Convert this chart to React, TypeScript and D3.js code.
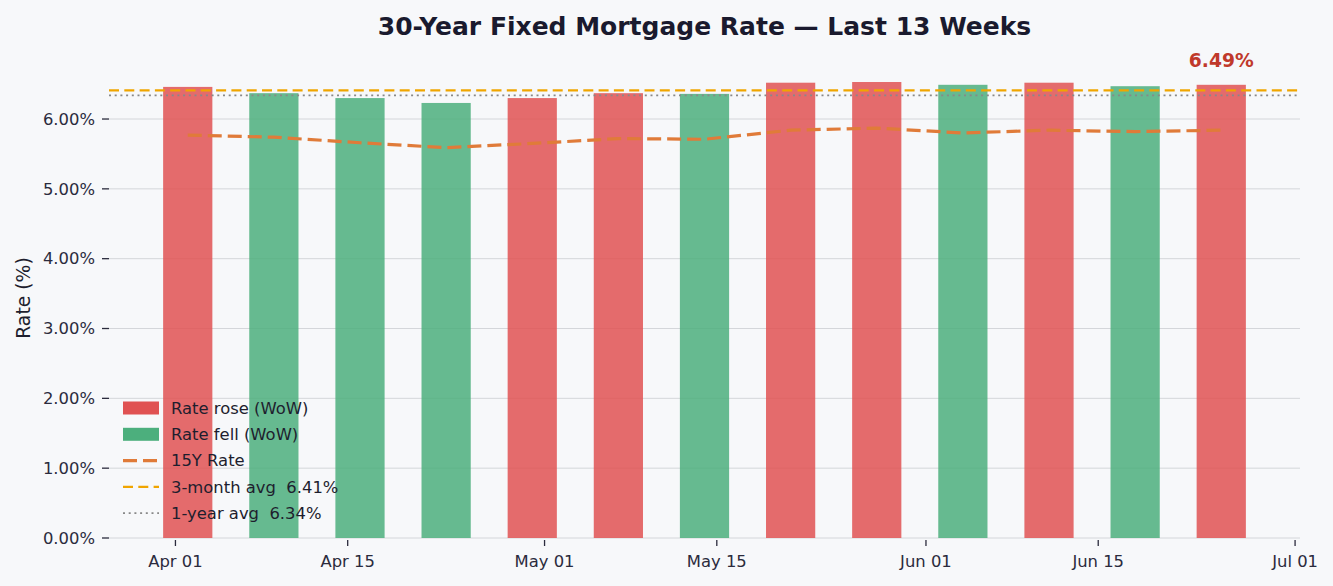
import React, { useRef, useEffect } from 'react';
import * as d3 from 'd3';

// weekly observations (Thursdays)
const weeks = [
  '2024-04-02', '2024-04-09', '2024-04-16', '2024-04-23', '2024-04-30', '2024-05-07', '2024-05-14',
  '2024-05-21', '2024-05-28', '2024-06-04', '2024-06-11', '2024-06-18', '2024-06-25',
];
const rate30 = [6.46, 6.37, 6.30, 6.23, 6.30, 6.37, 6.36, 6.52, 6.53, 6.49, 6.52, 6.47, 6.49];
const rate15 = [5.77, 5.74, 5.66, 5.59, 5.65, 5.72, 5.71, 5.84, 5.87, 5.80, 5.84, 5.82, 5.84];
const avg3m = 6.41;
const avg1y = 6.34;
const xTickDates = ['2024-04-01', '2024-04-15', '2024-05-01', '2024-05-15', '2024-06-01', '2024-06-15', '2024-07-01'];
const yTicks = [0, 1, 2, 3, 4, 5, 6];

const W = 1333;
const H = 586;
const FONT = 'DejaVu Sans, sans-serif';

const App: React.FC = () => {
  const svgRef = useRef<SVGSVGElement>(null);

  useEffect(() => {
    if (!svgRef.current) return;
    document.body.style.margin = '0';
    const svg = d3.select(svgRef.current);
    svg.selectAll('*').remove();

    const parse = d3.utcParse('%Y-%m-%d');
    const dates = weeks.map(d => parse(d)!);
    const day = 24 * 3600 * 1000;

    // bars are 4 days wide, matplotlib-like 5% margins
    const lo = +dates[0] - 2 * day;
    const hi = +dates[dates.length - 1] + 2 * day;
    const pad = (hi - lo) * 0.05;
    const x = d3.scaleUtc().domain([new Date(lo - pad), new Date(hi + pad)]).range([109, 1300]);
    const y = d3.scaleLinear().domain([0, 7]).range([538, 538 - 7 * 69.83]);

    svg.append('rect').attr('width', W).attr('height', H).attr('fill', '#f7f8fa');

    // grid
    svg.append('g')
      .selectAll('line')
      .data(yTicks)
      .join('line')
      .attr('x1', 109).attr('x2', 1300)
      .attr('y1', d => y(d)).attr('y2', d => y(d))
      .attr('stroke', '#d4d6da').attr('stroke-width', 1);

    // bars
    const barW = x(new Date(+dates[0] + 2 * day)) - x(new Date(+dates[0] - 2 * day));
    svg.append('g')
      .selectAll('rect')
      .data(rate30)
      .join('rect')
      .attr('x', (_, i) => x(dates[i]) - barW / 2)
      .attr('width', barW)
      .attr('y', d => y(d))
      .attr('height', d => y(0) - y(d))
      .attr('fill', (d, i) => (i === 0 || d >= rate30[i - 1] ? '#e05252' : '#4caf7d'))
      .attr('fill-opacity', 0.85);

    // average lines
    svg.append('line')
      .attr('x1', 109).attr('x2', 1300)
      .attr('y1', y(avg3m)).attr('y2', y(avg3m))
      .attr('stroke', '#f0a500').attr('stroke-width', 2.2)
      .attr('stroke-dasharray', '10,5.3');
    svg.append('line')
      .attr('x1', 109).attr('x2', 1300)
      .attr('y1', y(avg1y)).attr('y2', y(avg1y))
      .attr('stroke', '#888888').attr('stroke-width', 1.8)
      .attr('stroke-dasharray', '2,3.7');

    // 15Y line
    const line = d3.line<number>()
      .x((_, i) => x(dates[i]))
      .y(d => y(d));
    svg.append('path')
      .datum(rate15)
      .attr('d', line)
      .attr('fill', 'none')
      .attr('stroke', '#e07b39')
      .attr('stroke-width', 3.2)
      .attr('stroke-dasharray', '14,6');

    // last value label
    const last = rate30.length - 1;
    svg.append('text')
      .attr('x', x(dates[last]))
      .attr('y', y(rate30[last]) - 18)
      .attr('text-anchor', 'middle')
      .attr('font-family', FONT)
      .attr('font-weight', 'bold')
      .attr('font-size', 18.7)
      .attr('fill', '#c0392b')
      .text(`${rate30[last].toFixed(2)}%`);

    // y axis
    const ya = svg.append('g').attr('font-family', FONT).attr('font-size', 16.4).attr('fill', '#2b2b3d');
    ya.selectAll('line')
      .data(yTicks)
      .join('line')
      .attr('x1', 102).attr('x2', 109)
      .attr('y1', d => y(d)).attr('y2', d => y(d))
      .attr('stroke', '#2b2b3d').attr('stroke-width', 1.3);
    ya.selectAll('text')
      .data(yTicks)
      .join('text')
      .attr('x', 95)
      .attr('y', d => y(d))
      .attr('dy', '0.35em')
      .attr('text-anchor', 'end')
      .text(d => `${d.toFixed(2)}%`);

    // x axis
    const xd = xTickDates.map(d => parse(d)!);
    const fmt = d3.utcFormat('%b %d');
    const xa = svg.append('g').attr('font-family', FONT).attr('font-size', 16.4).attr('fill', '#2b2b3d');
    xa.selectAll('line')
      .data(xd)
      .join('line')
      .attr('x1', d => x(d)).attr('x2', d => x(d))
      .attr('y1', 540).attr('y2', 546)
      .attr('stroke', '#2b2b3d').attr('stroke-width', 1.3);
    xa.selectAll('text')
      .data(xd)
      .join('text')
      .attr('x', d => x(d))
      .attr('y', 567)
      .attr('text-anchor', 'middle')
      .text(d => fmt(d));

    svg.append('text')
      .attr('transform', `translate(30,298) rotate(-90)`)
      .attr('text-anchor', 'middle')
      .attr('font-family', FONT)
      .attr('font-size', 18.8)
      .attr('fill', '#1e1e2e')
      .text('Rate (%)');

    svg.append('text')
      .attr('x', 704.5)
      .attr('y', 35)
      .attr('text-anchor', 'middle')
      .attr('font-family', FONT)
      .attr('font-weight', 'bold')
      .attr('font-size', 25)
      .attr('fill', '#1a1a2e')
      .text('30-Year Fixed Mortgage Rate — Last 13 Weeks');

    // legend
    const legendItems = [
      { label: 'Rate rose (WoW)', kind: 'patch', color: '#e05252' },
      { label: 'Rate fell (WoW)', kind: 'patch', color: '#4caf7d' },
      { label: '15Y Rate', kind: 'line', color: '#e07b39', w: 3.2, dash: '14,6' },
      { label: `3-month avg  ${avg3m.toFixed(2)}%`, kind: 'line', color: '#f0a500', w: 2.2, dash: '10,5.3' },
      { label: `1-year avg  ${avg1y.toFixed(2)}%`, kind: 'line', color: '#888888', w: 1.8, dash: '2,3.7' },
    ];
    const lg = svg.append('g').attr('font-family', FONT).attr('font-size', 16.4).attr('fill', '#1e1e2e');
    legendItems.forEach((it, i) => {
      const cy = 408 + i * 26.3;
      if (it.kind === 'patch') {
        lg.append('rect').attr('x', 123).attr('y', cy - 6.5).attr('width', 36).attr('height', 13).attr('fill', it.color);
      } else {
        lg.append('line')
          .attr('x1', 123).attr('x2', 159).attr('y1', cy).attr('y2', cy)
          .attr('stroke', it.color).attr('stroke-width', it.w!).attr('stroke-dasharray', it.dash!);
      }
      lg.append('text')
        .attr('x', 171).attr('y', cy).attr('dy', '0.35em')
        .style('white-space', 'pre')
        .text(it.label);
    });
  }, []);

  return <svg ref={svgRef} width={W} height={H} style={{ display: 'block' }} />;
};

export default App;
